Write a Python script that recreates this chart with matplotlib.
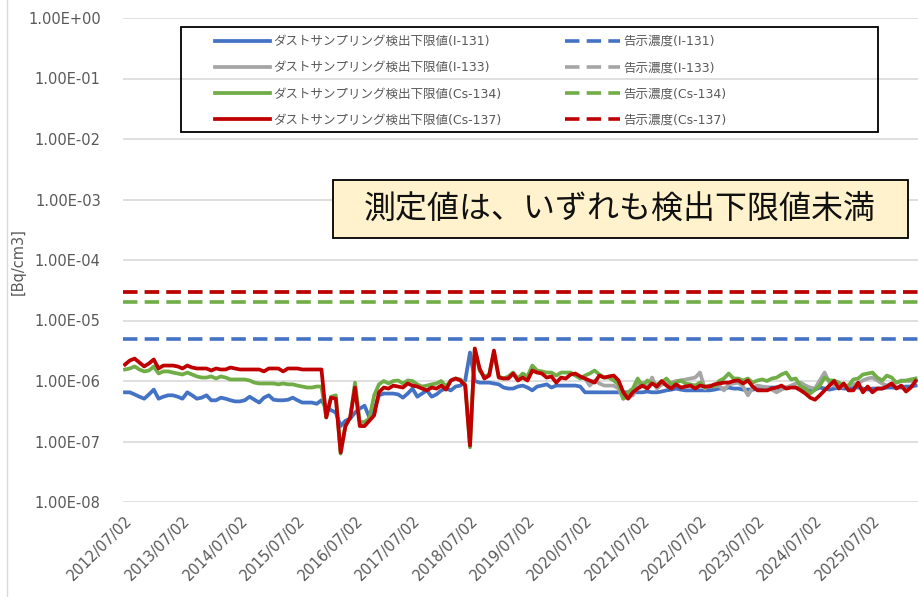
import numpy as np
import matplotlib
matplotlib.use("Agg")
import matplotlib.pyplot as plt
from matplotlib.lines import Line2D
from matplotlib.patches import Rectangle
from matplotlib.ticker import FixedLocator, NullLocator

plt.rcParams['font.family'] = ['DejaVu Sans', 'Noto Sans CJK JP']

# 月次データ 2012/07 ～ 2026/04 (単位: 1e-7 Bq/cm3)
years = list(range(2012, 2026))
tick_labels = [f"{y}/07/02" for y in years]
UNIT = 1e-7

i131 = [6.5, 6.5, 6.0, 5.5, 5.1, 6.0, 7.2, 5.1, 5.5, 5.8,
        5.8, 5.5, 5.1, 6.5, 5.8, 5.1, 5.3, 5.8, 4.8, 4.8,
        5.3, 5.1, 4.8, 4.6, 4.6, 4.8, 5.5, 4.9, 4.4, 5.3,
        5.8, 4.9, 4.8, 4.8, 4.9, 5.3, 4.8, 4.4, 4.4, 4.4,
        4.2, 4.8, 3.6, 3.3, 3.0, 1.8, 2.2, 2.4, 3.0, 3.5,
        3.9, 2.5, 3.3, 5.8, 6.2, 6.2, 6.2, 6.0, 5.3, 6.2,
        7.5, 5.5, 6.2, 7.0, 5.5, 6.0, 7.0, 7.5, 7.0, 8.1,
        8.4, 10.2, 29.6, 10.0, 9.4, 9.4, 9.4, 9.1, 8.8, 7.8,
        7.5, 7.5, 8.1, 8.4, 7.8, 7.0, 8.1, 8.4, 8.8, 7.8,
        8.4, 8.4, 8.4, 8.4, 8.4, 8.1, 6.5, 6.5, 6.5, 6.5,
        6.5, 6.5, 6.5, 6.5, 6.5, 6.5, 6.5, 6.5, 6.5, 6.7,
        6.5, 6.5, 6.7, 7.0, 7.2, 7.5, 7.2, 7.0, 7.0, 7.0,
        7.0, 7.0, 7.0, 7.2, 7.5, 7.5, 7.8, 7.5, 7.5, 7.2,
        7.2, 7.2, 7.5, 7.8, 7.8, 7.8, 7.8, 7.5, 7.8, 8.1,
        7.8, 7.5, 7.2, 7.0, 7.2, 7.8, 7.5, 7.2, 7.5, 7.8,
        7.5, 7.5, 7.8, 7.8, 7.5, 7.2, 7.5, 7.5, 7.5, 7.8,
        7.8, 7.8, 7.8, 8.1, 8.1, 8.4]

i133 = [np.nan] * 94 + [
        12.3, 11.4, 11.0, 8.4, 10.2, 9.1,
        8.4, 8.4, 8.4, 7.5, 5.1, 5.5, 5.8, 8.8, 9.4, 7.5,
        11.4, 7.5, 8.8, 9.1, 9.4, 10.0, 10.2, 10.6, 11.0, 11.4,
        13.8, 7.5, 8.4, 8.1, 8.4, 7.0, 8.8, 9.1, 9.4, 8.1,
        5.8, 7.8, 8.4, 8.1, 7.8, 7.2, 6.5, 7.2, 7.8, 8.4,
        9.1, 9.4, 8.4, 7.8, 7.5, 10.2, 13.8, 9.4, 8.4, 7.8,
        8.1, 8.4, 8.8, 9.1, 10.2, 11.0, 11.4, 10.2, 9.1, 8.4,
        9.1, 9.4, 10.2, 10.0, 10.0, 10.2]

cs134 = [15.5, 16.1, 17.4, 15.5, 14.4, 14.9, 17.4, 13.3, 14.4, 14.4,
         13.8, 13.3, 12.8, 13.8, 12.8, 11.9, 11.4, 11.4, 11.9, 11.0,
         11.9, 11.4, 10.6, 10.6, 10.6, 10.6, 10.2, 9.4, 9.1, 9.1,
         9.1, 9.1, 8.8, 9.1, 8.8, 8.8, 8.4, 8.1, 7.8, 7.8,
         8.1, 8.1, 2.5, 5.5, 5.8, 0.63, 1.8, 2.5, 9.4, 2.1,
         2.1, 2.4, 5.8, 8.8, 10.0, 9.1, 10.0, 10.2, 9.1, 10.2,
         10.0, 8.8, 8.1, 8.4, 8.8, 9.1, 10.0, 8.1, 10.2, 11.0,
         10.6, 8.8, 0.80, 34.4, 14.9, 11.9, 12.8, 29.6, 11.9, 11.0,
         11.9, 13.8, 11.0, 13.3, 11.9, 18.0, 14.9, 14.4, 13.8, 13.8,
         12.3, 13.8, 13.8, 13.8, 12.3, 11.0, 12.3, 13.3, 14.9, 12.8,
         11.4, 11.4, 10.2, 8.8, 5.1, 6.5, 7.5, 11.0, 8.1, 10.2,
         9.1, 8.8, 9.4, 11.0, 8.8, 9.4, 10.2, 9.1, 8.8, 8.4,
         9.4, 7.8, 8.4, 8.1, 10.0, 11.0, 13.3, 11.0, 11.0, 10.2,
         11.0, 9.4, 10.2, 10.6, 10.0, 11.0, 11.4, 12.8, 13.8, 10.6,
         11.0, 8.1, 7.5, 6.2, 7.2, 8.4, 11.4, 10.2, 10.2, 9.4,
         8.4, 8.4, 10.6, 11.0, 12.8, 13.3, 13.8, 11.4, 10.2, 12.3,
         11.4, 9.4, 10.0, 10.2, 10.6, 11.0]

cs137 = [18.7, 21.8, 23.5, 20.2, 17.4, 19.5, 22.7, 16.1, 18.0, 18.0,
         18.0, 17.4, 16.1, 18.0, 16.7, 16.1, 16.1, 16.1, 14.9, 16.1,
         15.5, 15.5, 16.7, 16.1, 15.5, 15.5, 15.5, 15.5, 15.5, 14.4,
         16.1, 16.1, 16.1, 14.4, 16.1, 16.1, 16.1, 15.5, 15.5, 15.5,
         15.5, 15.5, 2.5, 5.3, 5.1, 0.66, 1.8, 2.5, 7.8, 1.8,
         1.8, 2.2, 2.7, 6.5, 7.8, 7.5, 8.4, 8.1, 7.8, 9.1,
         8.4, 8.1, 7.5, 7.0, 7.8, 7.5, 8.4, 7.2, 10.2, 11.0,
         10.2, 8.4, 0.86, 34.4, 16.1, 11.0, 12.3, 31.9, 11.4, 11.0,
         11.0, 13.3, 10.2, 11.4, 10.2, 14.9, 13.8, 13.3, 11.4, 11.9,
         9.4, 11.4, 11.0, 12.8, 13.3, 11.9, 11.0, 10.2, 9.4, 12.3,
         11.4, 11.9, 12.3, 10.2, 6.5, 5.1, 6.5, 7.5, 8.4, 7.5,
         9.1, 8.1, 10.0, 8.4, 7.5, 8.8, 7.8, 8.1, 8.4, 7.5,
         8.4, 8.1, 8.1, 8.8, 9.1, 9.4, 9.4, 10.0, 10.2, 9.1,
         10.2, 8.1, 7.0, 7.0, 7.0, 7.5, 7.8, 8.4, 7.5, 7.8,
         7.8, 7.0, 6.2, 5.3, 4.9, 5.8, 7.0, 8.4, 10.0, 7.5,
         9.1, 7.0, 7.0, 9.4, 6.5, 8.1, 6.5, 7.5, 7.5, 8.1,
         9.1, 7.5, 8.4, 6.7, 7.8, 10.0]

# 告示濃度 [Bq/cm3]
notice_i131 = 5.0e-6
notice_i133 = 3.0e-5
notice_cs134 = 2.0e-5
notice_cs137 = 3.0e-5

nuclides = ['I-131', 'I-133', 'Cs-134', 'Cs-137']
colors = ['#4472C4', '#A5A5A5', '#70AD47', '#C00000']
series = [i131, i133, cs134, cs137]
notices = [notice_i131, notice_i133, notice_cs134, notice_cs137]

W, H = 918, 597
fig = plt.figure(figsize=(W / 100, H / 100), dpi=100)
ax = fig.add_axes([123 / W, 1 - 502 / H, (W - 123) / W, (502 - 18) / H])

x = np.arange(len(i131))
for s, c in zip(series, colors):
    ax.plot(x, np.array(s) * UNIT, color=c, lw=2.7, solid_joinstyle='round')
for n, c in zip(notices, colors):
    ax.axhline(n, color=c, lw=2.6, dashes=(4, 2))

ax.set_yscale('log')
ax.set_ylim(1e-8, 1)
ax.set_xlim(-0.42, 165.5)
yt = [10.0 ** k for k in range(-8, 1)]
ax.yaxis.set_major_locator(FixedLocator(yt))
ax.yaxis.set_minor_locator(NullLocator())
ax.set_yticklabels([f"{v:.2E}" for v in yt])
ax.set_xticks(np.arange(0, 12 * len(years), 12))
ax.set_xticklabels(tick_labels, rotation=45, ha='right', va='top', rotation_mode='anchor')
ax.tick_params(length=0, labelsize=10.5, colors='#595959')
ax.tick_params(axis='y', pad=16)
ax.tick_params(axis='x', pad=8)
ax.grid(axis='y', color='#D9D9D9', lw=1.2)
ax.set_axisbelow(True)
for sp in ax.spines.values():
    sp.set_visible(False)

fig.text(18 / W, 1 - 262 / H, '[Bq/cm3]', rotation=90, ha='center', va='center',
         fontsize=10.5, color='#595959')

# 凡例
handles = [Line2D([], [], color=c, lw=2.7) for c in colors]
handles += [Line2D([], [], color=c, lw=2.6, dashes=(4, 2)) for c in colors]
labels = [f"ダストサンプリング検出下限値({n})" for n in nuclides]
labels += [f"告示濃度({n})" for n in nuclides]
fig.add_artist(Rectangle((181 / W, 1 - 132 / H), (878 - 181) / W, (132 - 27) / H,
                         transform=fig.transFigure, fill=False, ec='black', lw=1.3, zorder=4))
fig.legend(handles, labels, ncol=2, loc='upper left', bbox_to_anchor=(215 / W, 1 - 35 / H),
           frameon=False, fontsize=9, labelcolor='#595959', handlelength=4.4,
           handletextpad=0.3, columnspacing=5.0, labelspacing=1.06, borderpad=0, borderaxespad=0)

# 注記
fig.add_artist(Rectangle((333 / W, 1 - 238 / H), (908 - 333) / W, (238 - 180) / H,
                         transform=fig.transFigure, fc='#FFF2CC', ec='black', lw=1.3, zorder=4))
fig.text(620 / W, 1 - 209 / H, '測定値は、いずれも検出下限値未満', ha='center', va='center',
         fontsize=23, family=['Noto Sans CJK JP'], color='#111111', zorder=5)

fig.add_artist(Line2D([7 / W, 7 / W], [0, 1], transform=fig.transFigure, color='#D9D9D9', lw=1))

fig.savefig('out.png', dpi=100)
